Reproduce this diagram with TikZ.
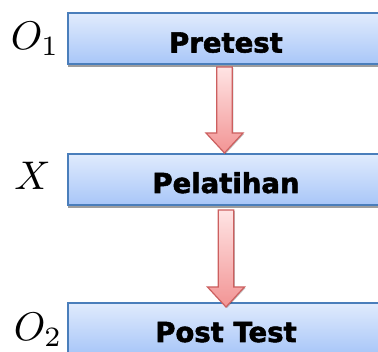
\documentclass[tikz,border=0pt]{standalone}
\usepackage{fontspec}
\newfontfamily\boxfont[BoldFeatures={FakeBold=2}]{DejaVu Sans}
\usetikzlibrary{shadows,calc}
\definecolor{boxborder}{HTML}{4A7EBB}
\definecolor{boxtop}{HTML}{E0EBFD}
\definecolor{boxbot}{HTML}{A8C6F8}
\definecolor{arrborder}{HTML}{CC5F5F}
\definecolor{arrtop}{HTML}{FFE4E4}
\definecolor{arrbot}{HTML}{F29494}
\tikzset{
  stagebox/.style={draw=boxborder, line width=2pt, top color=boxtop, bottom color=boxbot,
    minimum width=316pt, minimum height=51pt, inner sep=0pt,
    font=\boxfont\bfseries\fontsize{27.5}{30}\selectfont, text height=27pt, text depth=0pt,
    drop shadow={shadow xshift=0pt, shadow yshift=-3pt, fill=black!38, opacity=1}},
  mathlabel/.style={inner sep=0pt, anchor=base west, scale=4, font=\normalsize},
  fatarrowstyle/.style={draw=arrborder, line width=1.2pt, line join=miter,
    top color=arrtop, bottom color=arrbot,
    drop shadow={shadow xshift=1pt, shadow yshift=-1pt, opacity=0.25, fill=black}},
}
\newcommand\fatarrow[2]{%
  \path[fatarrowstyle] let \p1=(#1), \p2=(#2) in
    (\x1-7.8pt,\y1) -- (\x1+7.8pt,\y1) -- (\x1+7.8pt,\y2+20pt) -- (\x1+18.5pt,\y2+20pt)
    -- (\x1,\y2) -- (\x1-18.5pt,\y2+20pt) -- (\x1-7.8pt,\y2+20pt) -- cycle;}
\begin{document}
\begin{tikzpicture}[x=1pt,y=1pt]
\clip (0,0) rectangle (378,-352);
\node[stagebox] (b1) at (226,-39) {Pretest};
\node[stagebox] (b2) at (226,-179.5) {Pelatihan};
\node[stagebox] (b3) at (226,-328.5) {Post Test};
\node[mathlabel] (l1) at (10,-49.5) {$O_1$};
\node[mathlabel] (l2) at (13.5,-190) {$X$};
\node[mathlabel] (l3) at (13,-341) {$O_2$};
\coordinate (a1s) at ([xshift=-1.5pt,yshift=-1.5pt]b1.south);
\coordinate (a1e) at ([xshift=-1.5pt]b2.north);
\coordinate (a2s) at ([yshift=-4pt]b2.south);
\coordinate (a2e) at ([yshift=-5pt]b3.north);
\fatarrow{a1s}{a1e}
\fatarrow{a2s}{a2e}
\end{tikzpicture}
\end{document}
